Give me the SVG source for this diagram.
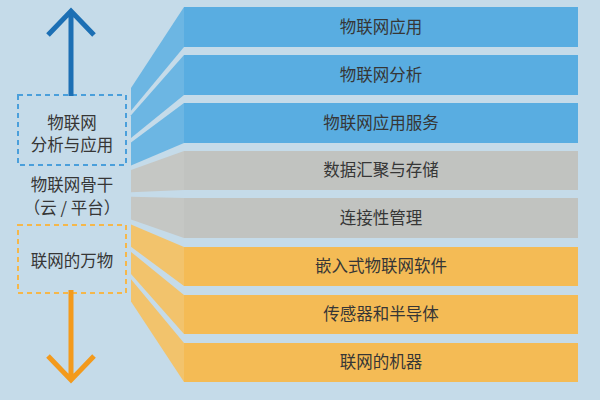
<svg xmlns="http://www.w3.org/2000/svg" width="600" height="400" viewBox="0 0 600 400">
<style>
.t{font-family:"Noto Sans CJK SC","Liberation Sans",sans-serif;font-size:16.5px;fill:#363636;text-anchor:middle}
.bf{fill:#59ade1}.bs{fill:#6cb6e3}
.gf{fill:#c1c3c0}.gs{fill:#c5c7c4}
.of{fill:#f4bb55}.os{fill:#f2c36c}
.arrow{fill:none;stroke-width:5;stroke-linecap:butt;stroke-linejoin:miter}
</style>
<rect width="600" height="400" fill="#c5dbe9"/>
<g id="layer1"><polygon class="bs" points="184,7 184,47 131,110.8 131,88"/><rect class="bf" x="184" y="7" width="394" height="40"/><text class="t" x="381" y="32.5">物联网应用</text></g>
<g id="layer2"><polygon class="bs" points="184,55 184,95 131,138.1 131,115.3"/><rect class="bf" x="184" y="55" width="394" height="40"/><text class="t" x="381" y="80.5">物联网分析</text></g>
<g id="layer3"><polygon class="bs" points="184,103 184,143 131,165.4 131,142.6"/><rect class="bf" x="184" y="103" width="394" height="40"/><text class="t" x="381" y="128.5">物联网应用服务</text></g>
<g id="layer4"><polygon class="gs" points="184,151 184,190 131,192.2 131,170"/><rect class="gf" x="184" y="151" width="394" height="39"/><text class="t" x="381" y="176">数据汇聚与存储</text></g>
<g id="layer5"><polygon class="gs" points="184,198 184,238 131,219.5 131,196.7"/><rect class="gf" x="184" y="198" width="394" height="40"/><text class="t" x="381" y="223.5">连接性管理</text></g>
<g id="layer6"><polygon class="os" points="184,247 184,286 131,246.8 131,224.6"/><rect class="of" x="184" y="247" width="394" height="39"/><text class="t" x="381" y="272">嵌入式物联网软件</text></g>
<g id="layer7"><polygon class="os" points="184,295 184,334 131,274.1 131,251.9"/><rect class="of" x="184" y="295" width="394" height="39"/><text class="t" x="381" y="320">传感器和半导体</text></g>
<g id="layer8"><polygon class="os" points="184,343 184,382 131,301.4 131,279.2"/><rect class="of" x="184" y="343" width="394" height="39"/><text class="t" x="381" y="368">联网的机器</text></g>
<g id="label-analysis"><rect x="18" y="95" width="108" height="70" fill="none" stroke="#4a9fdb" stroke-width="2" stroke-dasharray="5,4"/><text class="t" x="72" y="128.5">物联网</text><text class="t" x="72" y="150.5">分析与应用</text></g>
<g id="label-backbone"><text class="t" x="72" y="191">物联网骨干</text><text class="t" x="72" y="213.5">（云 / 平台）</text></g>
<g id="label-things"><rect x="18" y="225" width="108" height="68" fill="none" stroke="#f5b74a" stroke-width="2" stroke-dasharray="5,4"/><text class="t" x="72" y="267">联网的万物</text></g>
<g id="connectors">
<path class="arrow" stroke="#1c6fb4" d="M71,96 V10 M48,35 L71,11 L94,35"/>
<path class="arrow" stroke="#f39a1c" d="M71,290 V380 M48,356 L71,380 L94,356"/>
</g>
</svg>
